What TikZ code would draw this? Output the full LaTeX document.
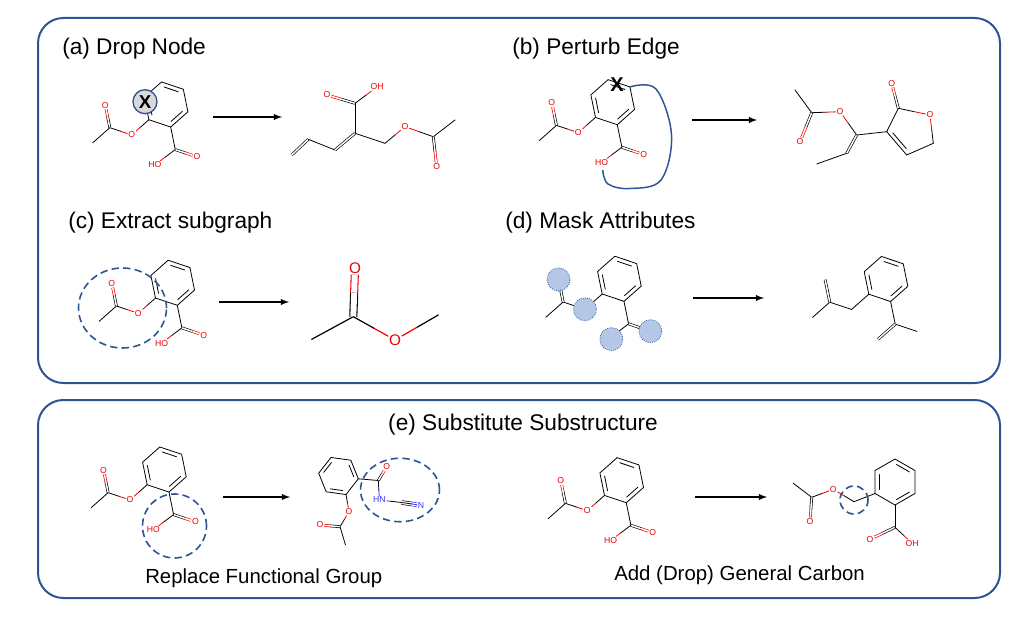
\documentclass[tikz,border=0pt]{standalone}
\usepackage{fontspec}
\setmainfont{Liberation Sans}
\usetikzlibrary{calc, positioning, arrows}

\definecolor{panelblue}{RGB}{47,84,150}
\definecolor{maskfill}{RGB}{180,199,231}
\definecolor{atomred}{RGB}{240,0,0}
\definecolor{atomblue}{RGB}{51,51,255}

\tikzset{
  bond/.style={line width=0.6pt, line cap=round},
  dbond/.style={line width=0.5pt, double, double distance=1.1pt},
  atom/.style={inner sep=0.6pt, text=atomred, font=\fontsize{6.5}{7}\selectfont},
  panel/.style={draw=panelblue, line width=1.5pt, rounded corners=19pt},
  title/.style={font=\fontsize{17}{20}\selectfont, anchor=base west, inner sep=0pt},
  caption/.style={font=\fontsize{15.3}{18}\selectfont, anchor=base west, inner sep=0pt},
  flow/.style={-latex, line width=1.1pt},
  dashring/.style={draw=panelblue, line width=1.2pt, dash pattern=on 5.5pt off 3.2pt},
  mask/.style={circle, fill=maskfill, draw=panelblue, densely dotted, line width=0.6pt, minimum size=17.25pt, inner sep=0pt},
  xmark/.style={font=\bfseries\fontsize{14}{14}\selectfont, inner sep=0pt}
}

\def\bl{17.25pt}
% single bond, second half in colour #1
\newcommand{\bnd}[3][black]{%
  \draw[bond] (#2) -- ($(#2)!0.5!(#3)$);
  \draw[bond,#1] ($(#2)!0.5!(#3)$) -- (#3);}
% double bond
\newcommand{\dbnd}[3][black]{%
  \draw[dbond] (#2) -- ($(#2)!0.5!(#3)$);
  \draw[dbond,#1] ($(#2)!0.5!(#3)$) -- (#3);}
% benzene ring: prefix, centre, angle of first vertex
\newcommand{\ringat}[3]{%
  \foreach \k in {1,...,6}
    \coordinate (#1r\k) at ($(#2)+({#3-60*(\k-1)}:\bl)$);
  \draw[bond] (#1r1) -- (#1r2) -- (#1r3) -- (#1r4) -- (#1r5) -- (#1r6) -- cycle;
  \foreach \i/\j in {1/2,3/4,5/6}
    \draw[bond, shorten <=1.3pt, shorten >=1.3pt] ($(#1r\i)!0.2!(#2)$) -- ($(#1r\j)!0.2!(#2)$);}
% aspirin: prefix, centre
\newcommand{\aspirin}[2]{%
  \coordinate (#1c) at (#2);
  \ringat{#1}{#1c}{101.5}
  \node[atom] (#1o) at ($(#1r5)+(-138.5:\bl)$) {O};
  \coordinate (#1ca) at ($(#1o)+(161.5:\bl)$);
  \node[atom] (#1oa) at ($(#1ca)+(101.5:\bl)$) {O};
  \coordinate (#1me) at ($(#1ca)+(-138.5:\bl)$);
  \coordinate (#1cc) at ($(#1r4)+(-78.5:\bl)$);
  \node[atom] (#1oc) at ($(#1cc)+(-18.5:\bl)$) {O};
  \node[atom, xshift=-2.3pt] (#1oh) at ($(#1cc)+(-138.5:\bl)$) {HO};
  \bnd[atomred]{#1r5}{#1o}
  \bnd[atomred]{#1ca}{#1o}
  \dbnd[atomred]{#1ca}{#1oa}
  \draw[bond] (#1ca) -- (#1me);
  \draw[bond] (#1r4) -- (#1cc);
  \dbnd[atomred]{#1cc}{#1oc}
  \bnd[atomred]{#1cc}{#1oh}}

\begin{document}
\begin{tikzpicture}[x=0.75pt, y=-0.75pt]
\useasboundingbox (0,0) rectangle (1009,623);
\fill[white] (0,0) rectangle (1009,623);

% panels
\draw[panel] (38,18) rectangle (1000,383);
\draw[panel] (38,400) rectangle (1000,598);

\node[title] (ta) at (62,55) {(a) Drop Node};
\node[title] (tb) at (512,55) {(b) Perturb Edge};
\node[title] (tc) at (68,229) {(c) Extract subgraph};
\node[title] (td) at (505,229) {(d) Mask Attributes};
\node[title, anchor=base] (te) at (523,430) {(e) Substitute Substructure};
\node[caption] (cr) at (145,583) {Replace Functional Group};
\node[caption] (cd) at (614,580) {Add (Drop) General Carbon};

% (a) drop node
\aspirin{a1}{166.1,104.5}
\node[circle, draw=panelblue, fill=black!15, line width=1pt, minimum size=18pt, inner sep=0pt] (xa) at ($(a1r6)+(0.7,4.5)$) {};
\node[xmark] (xat) at (xa) {X};

\coordinate (a2v1) at (291.7,155);
\coordinate (a2v2) at (308.3,139.3);
\coordinate (a2v3) at (335,150);
\coordinate (a2v4) at (355,133.3);
\coordinate (a2v5) at (355,103.3);
\node[atom] (a2o1) at (327,95) {O};
\node[atom, xshift=2.3pt] (a2oh) at (374,87) {OH};
\coordinate (a2v6) at (385,143.3);
\node[atom] (a2o2) at (405,126.7) {O};
\coordinate (a2v7) at (433.3,136.7);
\coordinate (a2me) at (455,120);
\node[atom] (a2o3) at (436.7,166.7) {O};
\draw[dbond] (a2v1) -- (a2v2);
\draw[bond] (a2v2) -- (a2v3);
\draw[dbond] (a2v3) -- (a2v4);
\draw[bond] (a2v4) -- (a2v5);
\dbnd[atomred]{a2v5}{a2o1}
\bnd[atomred]{a2v5}{a2oh}
\draw[bond] (a2v4) -- (a2v6);
\bnd[atomred]{a2v6}{a2o2}
\bnd[atomred]{a2v7}{a2o2}
\draw[bond] (a2v7) -- (a2me);
\dbnd[atomred]{a2v7}{a2o3}

% (b) perturb edge
\aspirin{b1}{612.7,102.2}
\coordinate (b1s) at (b1r2);
\coordinate (b1t) at (602.7,170);
\draw[panelblue, line width=1.1pt] plot[smooth, tension=0.6] coordinates {(b1s) (656,89) (671.5,135) (661,180) (630,188.5) (608,184) (b1t)};
\node[xmark, font=\bfseries\fontsize{15}{15}\selectfont] (xb) at ($(b1r1)!0.5!(b1r2)+(-2,1.5)$) {X};

\coordinate (b2me) at (795,90);
\coordinate (b2ca) at (811.7,112.7);
\node[atom] (b2o1) at (800,141.7) {O};
\node[atom] (b2o2) at (840,111.7) {O};
\coordinate (b2c1) at (856.7,135);
\coordinate (b2c2) at (846.7,153.3);
\coordinate (b2c3) at (816.7,164);
\coordinate (b2c4) at (886.7,131.7);
\coordinate (b2c5) at (898.3,108.3);
\node[atom] (b2o3) at (891.7,83.3) {O};
\node[atom] (b2o4) at (930,115) {O};
\coordinate (b2c6) at (933.3,143.3);
\coordinate (b2c7) at (906.7,155);
\coordinate (b2rc) at (911,130.7);
\draw[bond] (b2me) -- (b2ca);
\dbnd[atomred]{b2ca}{b2o1}
\bnd[atomred]{b2ca}{b2o2}
\bnd[atomred]{b2c1}{b2o2}
\draw[dbond] (b2c1) -- (b2c2);
\draw[bond] (b2c2) -- (b2c3);
\draw[bond] (b2c1) -- (b2c4);
\draw[bond] (b2c4) -- (b2c5);
\dbnd[atomred]{b2c5}{b2o3}
\bnd[atomred]{b2c5}{b2o4}
\bnd[atomred]{b2c6}{b2o4}
\draw[bond] (b2c6) -- (b2c7);
\draw[bond] (b2c4) -- (b2c7);
\draw[bond, shorten <=1.3pt, shorten >=1.3pt] ($(b2c4)!0.2!(b2rc)$) -- ($(b2c7)!0.2!(b2rc)$);

% (c) extract subgraph
\aspirin{c1}{172.7,282.8}
\draw[dashring] (122.5,308) ellipse [x radius=33pt, y radius=30pt];

\begin{scope}[bond/.append style={line width=0.9pt}, dbond/.append style={line width=0.8pt, double distance=4.5pt},
  atom/.append style={font=\fontsize{11.5}{12}\selectfont}]
\coordinate (c2m1) at (311.7,339.3);
\coordinate (c2ca) at (353.3,316.7);
\node[atom] (c2oa) at (355,268.3) {O};
\node[atom] (c2o) at (395,340) {O};
\coordinate (c2m2) at (438.3,315);
\draw[bond] (c2m1) -- (c2ca);
\dbnd[atomred]{c2ca}{c2oa}
\bnd[atomred]{c2ca}{c2o}
\bnd[atomred]{c2m2}{c2o}
\end{scope}

% (d) mask attributes
\aspirin{d1}{619.4,278.8}
\node[mask] (m1) at (d1oa) {};
\node[mask] (m2) at (d1o) {};
\node[mask] (m3) at (d1oc) {};
\node[mask] (m4) at ($(d1cc)+(-138.5:\bl)$) {};

\coordinate (d2c) at (886,279);
\ringat{d2}{d2c}{101.5}
\coordinate (d2a) at ($(d2r5)+(-138.5:\bl)$);
\coordinate (d2b) at ($(d2a)+(161.5:\bl)$);
\coordinate (d2b1) at ($(d2b)+(101.5:\bl)$);
\coordinate (d2b2) at ($(d2b)+(-138.5:\bl)$);
\coordinate (d2d) at ($(d2r4)+(-78.5:\bl)$);
\coordinate (d2d1) at ($(d2d)+(-18.5:\bl)$);
\coordinate (d2d2) at ($(d2d)+(-138.5:\bl)$);
\draw[bond] (d2r5) -- (d2a) -- (d2b) -- (d2b2);
\draw[dbond] (d2b) -- (d2b1);
\draw[bond] (d2r4) -- (d2d) -- (d2d1);
\draw[dbond] (d2d) -- (d2d2);

% (e) substitute substructure
\aspirin{e1}{164.4,469.5}

\begin{scope}
\def\bl{15pt}
\coordinate (e2c) at (338.5,476);
\ringat{e2}{e2c}{172}
\coordinate (e2cc) at (378.3,480.5);
\node[atom] (e2oc) at (386.7,466.7) {O};
\node[atom, text=atomblue, xshift=-2.3pt] (e2nh) at (382.5,500) {HN};
\coordinate (e2cn) at (401.7,502.5);
\node[atom, text=atomblue] (e2n) at (421,505.3) {N};
\node[atom] (e2o) at (349,511.7) {O};
\coordinate (e2ca) at (340,526.7);
\node[atom] (e2oa) at (320,525) {O};
\coordinate (e2me) at (345.5,545);
\draw[bond] (e2r4) -- (e2cc);
\dbnd[atomred]{e2cc}{e2oc}
\bnd[atomblue]{e2cc}{e2nh}
\bnd[atomblue]{e2cn}{e2nh}
\draw[dbond, double distance=2.4pt] (e2cn) -- ($(e2cn)!0.5!(e2n)$);
\draw[dbond, double distance=2.4pt, atomblue] ($(e2cn)!0.5!(e2n)$) -- (e2n);
\bnd[atomblue]{e2cn}{e2n}
\bnd[atomred]{e2r5}{e2o}
\bnd[atomred]{e2ca}{e2o}
\dbnd[atomred]{e2ca}{e2oa}
\draw[bond] (e2ca) -- (e2me);
\end{scope}

\aspirin{e3}{621.7,480.2}

\coordinate (e4c) at (895,482);
\ringat{e4}{e4c}{90}
\coordinate (e4ch) at (854,501.7);
\node[atom] (e4o) at (833.3,489.3) {O};
\coordinate (e4ca) at (811.7,497.3);
\coordinate (e4me) at (793.3,483.3);
\node[atom] (e4oa) at (810,521.7) {O};
\coordinate (e4cc) at (895,527.3);
\node[atom] (e4oc) at (870,539.3) {O};
\node[atom, xshift=2.3pt] (e4oh) at (909,543.3) {OH};
\draw[bond] (e4r5) -- (e4ch);
\bnd[atomred]{e4ch}{e4o}
\bnd[atomred]{e4ca}{e4o}
\draw[bond] (e4ca) -- (e4me);
\dbnd[atomred]{e4ca}{e4oa}
\draw[bond] (e4r4) -- (e4cc);
\dbnd[atomred]{e4cc}{e4oc}
\bnd[atomred]{e4cc}{e4oh}

% dashed selections
\draw[dashring] (174.5,526) circle [radius=24pt];
\draw[dashring] (400,490) ellipse [x radius=29.6pt, y radius=23.8pt];
\draw[dashring] (854,500) circle [radius=10.5pt];

% arrows
\coordinate (aS) at (213,117);  \coordinate (aE) at (282,117);
\coordinate (bS) at (692,120);  \coordinate (bE) at (757,120);
\coordinate (cS) at (219,302);  \coordinate (cE) at (289,302);
\coordinate (dS) at (693,298);  \coordinate (dE) at (764,298);
\coordinate (eS) at (223,497);  \coordinate (eE) at (290,497);
\coordinate (fS) at (695,497);  \coordinate (fE) at (767,497);
\foreach \s in {a,b,c,d,e,f}
  \draw[flow] (\s S) -- (\s E);
\end{tikzpicture}
\end{document}
